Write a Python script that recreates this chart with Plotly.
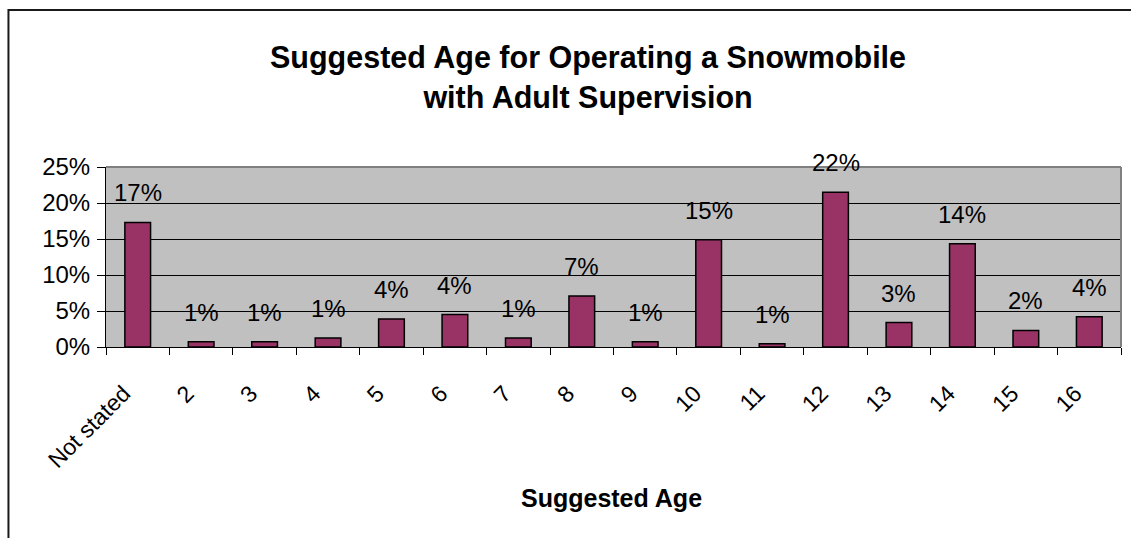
import plotly.graph_objects as go

categories = ["Not stated", "2", "3", "4", "5", "6", "7", "8", "9", "10",
              "11", "12", "13", "14", "15", "16"]
values = [0.173, 0.0074, 0.0074, 0.0125, 0.039, 0.045, 0.0125, 0.071, 0.0074,
          0.149, 0.0046, 0.215, 0.034, 0.1435, 0.023, 0.042]
value_labels = ["17%", "1%", "1%", "1%", "4%", "4%", "1%", "7%", "1%", "15%",
                "1%", "22%", "3%", "14%", "2%", "4%"]
y_ticks = [0, 0.05, 0.10, 0.15, 0.20, 0.25]
y_tick_labels = ["0%", "5%", "10%", "15%", "20%", "25%"]

FONT = "Arial, 'Liberation Sans', sans-serif"

fig = go.Figure()
fig.add_trace(go.Bar(
    x=categories, y=values,
    marker=dict(color="#993366", line=dict(color="#000000", width=1.5)),
    hoverinfo="skip",
))

annotations = []
for i, (v, lab) in enumerate(zip(values, value_labels)):
    annotations.append(dict(
        x=i, y=v, xref="x", yref="y", text=lab, showarrow=False,
        yanchor="bottom", yshift=14,
        font=dict(family=FONT, size=24, color="#000000"),
    ))

annotations.append(dict(
    x=0.475, y=1.5, xref="paper", yref="paper",
    text="<b>Suggested Age for Operating a Snowmobile<br>with Adult Supervision</b>",
    showarrow=False, xanchor="center", yanchor="middle",
    font=dict(family=FONT, size=30.5, color="#000000"),
))
annotations.append(dict(
    x=0.498, y=-0.839, xref="paper", yref="paper",
    text="<b>Suggested Age</b>", showarrow=False,
    xanchor="center", yanchor="middle",
    font=dict(family=FONT, size=25, color="#000000"),
))

shapes = [
    # outer chart frame (top and left visible)
    dict(type="rect", xref="paper", yref="paper",
         x0=-0.0961, x1=1.05, y0=-1.2, y1=1.872,
         line=dict(color="#1a1a1a", width=2), layer="below"),
    # grey plot-area border on top and right
    dict(type="line", xref="paper", yref="paper", x0=0, x1=1, y0=1, y1=1,
         line=dict(color="#808080", width=2), layer="above"),
    dict(type="line", xref="paper", yref="paper", x0=1, x1=1, y0=0, y1=1,
         line=dict(color="#808080", width=2), layer="above"),
]

fig.update_layout(
    width=1131, height=538,
    margin=dict(l=106, r=10, t=167, b=191),
    paper_bgcolor="#ffffff",
    plot_bgcolor="#c0c0c0",
    bargap=0.595,
    showlegend=False,
    annotations=annotations,
    shapes=shapes,
    font=dict(family=FONT, color="#000000"),
)
fig.update_xaxes(
    type="category",
    tickson="boundaries",
    ticks="outside", ticklen=7, tickcolor="#000000", tickwidth=1,
    showline=True, linecolor="#000000", linewidth=1,
    tickangle=-45,
    tickfont=dict(family=FONT, size=23, color="#000000"),
    showgrid=False,
    ticklabelstandoff=23,
    ticklabelshift=-14,
)
fig.update_yaxes(
    range=[0, 0.25],
    tickvals=y_ticks, ticktext=y_tick_labels,
    ticks="outside", ticklen=8, tickcolor="#000000", tickwidth=1,
    showline=True, linecolor="#000000", linewidth=1,
    showgrid=True, gridcolor="#000000", gridwidth=1,
    zeroline=False,
    tickfont=dict(family=FONT, size=24, color="#000000"),
    ticklabelstandoff=2,
)

fig.write_html(
    "out.html",
    config={"displayModeBar": False},
    post_script="document.body.style.margin='0';document.body.style.overflow='hidden';",
)
